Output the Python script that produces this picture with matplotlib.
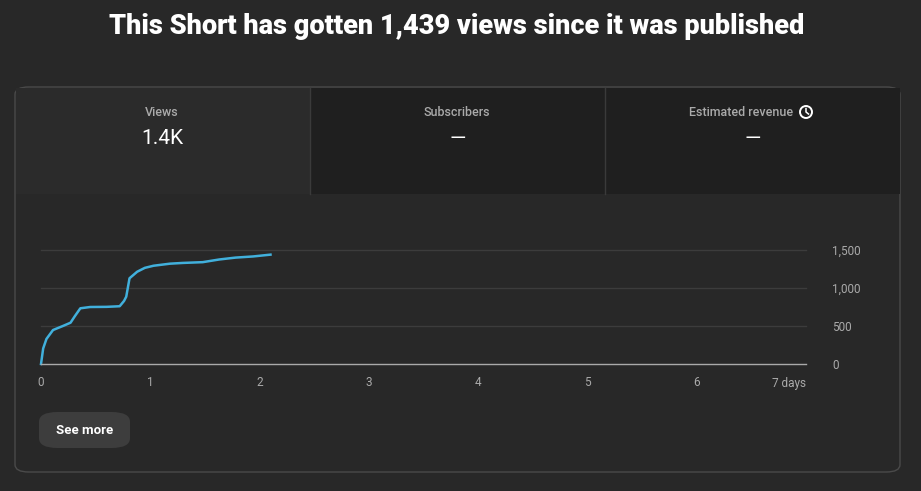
import matplotlib
matplotlib.use("Agg")
import matplotlib.pyplot as plt
from matplotlib.patches import FancyBboxPatch, Rectangle, Ellipse

# data
days = [0, 0.02, 0.05, 0.11, 0.2, 0.27, 0.31, 0.36, 0.45, 0.6, 0.72, 0.76, 0.78,
        0.81, 0.88, 0.95, 1.03, 1.18, 1.3, 1.48, 1.63, 1.78, 1.94, 2.1]
views = [0, 205, 330, 447, 500, 543, 630, 733, 750, 752, 760, 830, 886,
         1128, 1214, 1265, 1293, 1320, 1330, 1340, 1375, 1400, 1415, 1439]
x_ticks = [0, 1, 2, 3, 4, 5, 6, 7]
x_labels = ["0", "1", "2", "3", "4", "5", "6", "7 days"]
y_ticks = [0, 500, 1000, 1500]
y_labels = ["0", "500", "1,000", "1,500"]
cards = [("Views", "1.4K"), ("Subscribers", "—"), ("Estimated revenue", "—")]

W, H = 921, 491
BG = "#282828"
fig = plt.figure(figsize=(W / 100, H / 100), dpi=100, facecolor=BG)
font = "Roboto"

def fx(px): return px / W
def fy(py): return 1 - py / H

fig.text(fx(457), fy(27), "This Short has gotten 1,439 views since it was published",
         ha="center", va="center", color="white", fontsize=19.5, fontweight="heavy",
         family=font)

# card outline
card = FancyBboxPatch((fx(15), fy(472)), fx(885), (472 - 87) / H,
                      boxstyle="round,pad=0,rounding_size=0.015", transform=fig.transFigure,
                      facecolor=BG, edgecolor="#4a4a4a", lw=1)
fig.patches.append(card)
# header cells
cell_w = (900 - 15) / 3
label_x = [162, 457, 741]
for i, (label, val) in enumerate(cards):
    x0 = 15 + i * cell_w
    fc = "#2b2b2b" if i == 0 else "#1f1f1f"
    fig.patches.append(Rectangle((fx(x0 + 1), fy(194)), cell_w / W - 1 / W, (194 - 88) / H,
                                 transform=fig.transFigure, facecolor=fc, edgecolor="none"))
    if i > 0:
        fig.lines.append(plt.Line2D([fx(x0), fx(x0)], [fy(88), fy(194)], transform=fig.transFigure,
                                    color="#3a3a3a", lw=1))
    cx = x0 + cell_w / 2
    fig.text(fx(label_x[i]), fy(112), label, ha="center", va="center", color="#aaaaaa",
             fontsize=9, family=font, fontweight="medium")
    fig.text(fx(cx), fy(139), val, ha="center", va="center", color="white",
             fontsize=15, family=font)
# clock icon
fig.patches.append(Ellipse((fx(806), fy(112)), 12 / W, 12 / H, transform=fig.transFigure,
                           facecolor="none", edgecolor="white", lw=1.4))
fig.lines.append(plt.Line2D([fx(806), fx(806), fx(808.5)], [fy(108.5), fy(112), fy(114)],
                            transform=fig.transFigure, color="white", lw=1.1))

ax = fig.add_axes([fx(41), fy(364), (806 - 41) / W, (364 - 250) / H])
ax.set_zorder(5)
ax.patch.set_alpha(0)
ax.plot(days, views, color="#41b0dc", lw=1.8, solid_joinstyle="round", clip_on=False)
ax.set_xlim(0, 7)
ax.set_ylim(0, 1500)
for yv in y_ticks[1:]:
    ax.axhline(yv, color="#3c3c3c", lw=1, zorder=0, clip_on=False)
ax.axhline(0, color="#aaaaaa", lw=1, clip_on=False)
for s in ax.spines.values():
    s.set_visible(False)
ax.set_xticks(x_ticks)
ax.set_xticklabels(x_labels, color="#aaaaaa", fontsize=8.5, family=font)
ax.set_yticks(y_ticks)
ax.set_yticklabels(y_labels, color="#aaaaaa", fontsize=8.5, family=font)
ax.yaxis.tick_right()
ax.tick_params(axis="x", length=0, pad=9)
ax.tick_params(axis="y", length=0, pad=19)
ax.get_xticklabels()[-1].set_horizontalalignment("right")

# See more button
fig.patches.append(FancyBboxPatch((fx(39), fy(448)), 91 / W, 36 / H,
                                  boxstyle="round,pad=0,rounding_size=0.02",
                                  transform=fig.transFigure, facecolor="#3d3d3d", edgecolor="none"))
fig.text(fx(84.5), fy(430), "See more", ha="center", va="center", color="white",
         fontsize=9.5, fontweight="bold", family=font)

fig.savefig("out.png", dpi=100, facecolor=BG)
